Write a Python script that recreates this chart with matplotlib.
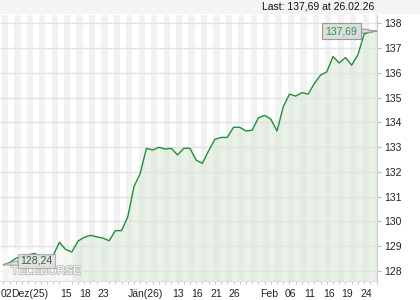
import numpy as np
import matplotlib
matplotlib.use('Agg')
import matplotlib.pyplot as plt
import matplotlib.patheffects as pe
from matplotlib.patches import Rectangle

plt.rcParams['font.family'] = ['Liberation Sans', 'DejaVu Sans']

# daily closes, 01.12.2025 .. 26.02.2026 (trading days)
prices = [
    128.24, 128.33, 128.50, 128.58, 128.64, 128.70, 128.58, 128.61, 128.61, 129.15,
    128.86, 128.76, 129.20, 129.35, 129.43, 129.37, 129.32, 129.21, 129.62, 129.62,
    130.18, 131.40, 131.94, 132.95, 132.88, 132.99, 132.92, 132.95, 132.68, 132.95,
    132.95, 132.47, 132.34, 132.85, 133.31, 133.39, 133.39, 133.80, 133.80, 133.65,
    133.68, 134.18, 134.28, 134.13, 133.65, 134.63, 135.14, 135.06, 135.20, 135.14,
    135.57, 135.91, 136.04, 136.66, 136.40, 136.62, 136.31, 136.73, 137.57, 137.65,
    137.69,
]
first_label = '128,24'
last_label = '137,69'
header = 'Last: 137,69 at 26.02.26'

tick_labels = ['02', 'Dez(25)', '15', '18', '23', 'Jän(26)', '13', '16', '21', '26',
               'Feb', '06', '11', '16', '19', '24']
tick_pos = [0.5, 4.3, 10.0, 13.1, 16.0, 22.9, 28.1, 31.2, 34.2, 37.1,
            42.8, 46.2, 49.3, 52.3, 55.2, 58.3]
y_ticks = list(range(128, 139))

LINE = '#1f8f3a'
GRID = '#e2e2e2'
STRIPE = '#f2f2f2'

fig = plt.figure(figsize=(4.2, 3.0), dpi=100)
fig.patch.set_facecolor('white')
fig.patches.append(Rectangle((0, 0.953), 1, 0.047, transform=fig.transFigure,
                             facecolor='#f4f4f4', edgecolor='none', zorder=0))

ax = fig.add_axes([0.0, 0.063, 0.898, 0.887])
ax.set_facecolor('white')
x = np.arange(len(prices))
ax.set_xlim(-0.55, 60.1)
ax.set_ylim(127.58, 138.34)

# alternating day stripes
for k in range(0, 61, 2):
    ax.axvspan(k - 0.25, k + 0.75, color=STRIPE, lw=0, zorder=0)

for v in y_ticks:
    ax.axhline(v, color=GRID, lw=1.0, zorder=2)

ax.fill_between(x, prices, 127.0, color='#d6e7d3', alpha=0.5, lw=0, zorder=1)
ax.plot(x, prices, color=LINE, lw=1.0, zorder=4)

# watermark with a faded backing
ax.add_patch(Rectangle((0.0, 0.0), 0.19, 0.12, transform=ax.transAxes,
                       facecolor='white', edgecolor='none', alpha=0.55, zorder=3))
ax.text(0.03, 0.015, 'TELEBÖRSE', transform=ax.transAxes, fontsize=8.3,
        color='white', ha='left', va='bottom', zorder=5,
        path_effects=[pe.withStroke(linewidth=1.5, foreground='#c0c0c0')])

# value markers
ax.annotate(last_label, xy=(x[-1], prices[-1]), xytext=(-35, 0),
            textcoords='offset pixels', ha='center', va='center',
            fontsize=7.5, color='#2a9a44', zorder=6,
            bbox=dict(boxstyle='square,pad=0.3', fc='#dcdcdc', ec='#9a9a9a', lw=0.8),
            arrowprops=dict(arrowstyle='wedge,tail_width=0.45', fc='#dcdcdc',
                            ec='#9a9a9a', lw=0.8, shrinkA=0, shrinkB=0))
ax.annotate(first_label, xy=(x[0], prices[0]), xytext=(33, 4),
            textcoords='offset pixels', ha='center', va='center',
            fontsize=7.5, color='#3d5a3d', zorder=6,
            bbox=dict(boxstyle='square,pad=0.2', fc='#e0e0e0', ec='#a8a8a8',
                      lw=0.8, alpha=0.85),
            arrowprops=dict(arrowstyle='wedge,tail_width=0.45', fc='#e0e0e0',
                            ec='#a8a8a8', lw=0.8, shrinkA=0, shrinkB=0))

ax.yaxis.tick_right()
ax.set_yticks(y_ticks)
ax.set_yticklabels([str(v) for v in y_ticks])
ax.tick_params(axis='y', length=3, width=0.8, color='#bbbbbb', pad=2,
               labelsize=7.5, labelcolor='#222222')

ax.set_xticks(tick_pos)
ax.set_xticklabels(tick_labels)
ax.set_xticks(x, minor=True)
ax.tick_params(axis='x', which='major', length=0, pad=6, labelsize=7.5,
               labelcolor='#222222')
ax.tick_params(axis='x', which='minor', length=2.5, width=0.8, color='#c8c8c8')

for s in ['top', 'left']:
    ax.spines[s].set_visible(False)
ax.spines['right'].set_color('#cccccc')
ax.spines['bottom'].set_color('#dddddd')

fig.text(0.89, 0.977, header, ha='right', va='center', fontsize=7.5, color='#111111')

fig.savefig('out.png', dpi=100, facecolor='white')
